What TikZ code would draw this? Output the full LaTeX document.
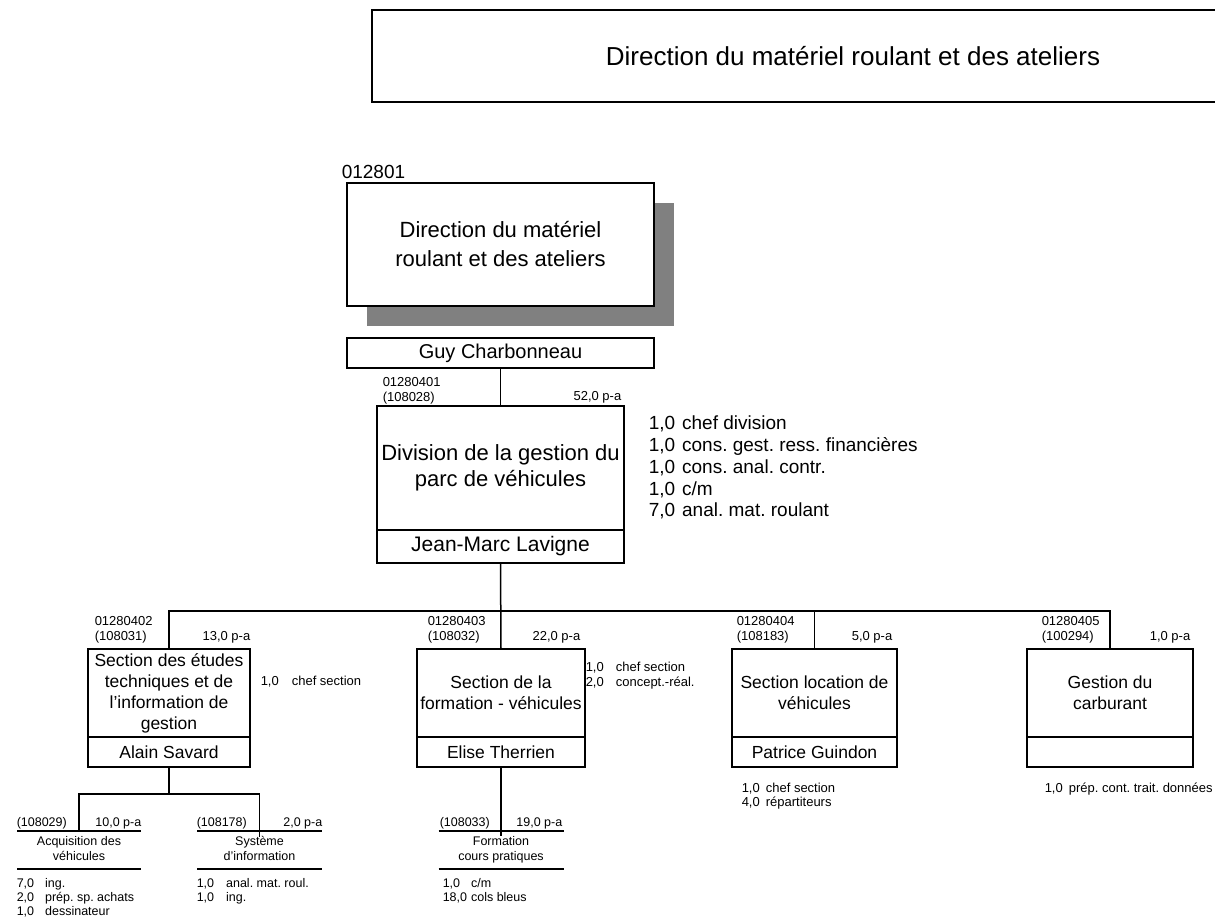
\documentclass[tikz,border=0pt]{standalone}
\usepackage{fontspec}
\setmainfont{Liberation Sans}
\usetikzlibrary{positioning,shadows}

\tikzset{
  boite/.style={draw, rectangle, inner sep=0pt, outer sep=0pt, align=center, fill=white},
  section/.style={boite, minimum height=88pt, font=\fontsize{17.5}{21}\selectfont},
  nom/.style={boite, minimum height=30pt, font=\fontsize{17.5}{21}\selectfont},
  code/.style={anchor=west, align=left, inner sep=0pt, font=\fontsize{13}{15}\selectfont},
  pa/.style={anchor=east, inner sep=0pt, font=\fontsize{13}{15}\selectfont},
  effectif/.style={anchor=west, inner sep=0pt, font=\fontsize{13}{15}\selectfont},
  unite/.style={minimum height=38pt, inner sep=0pt, outer sep=0pt, align=center, font=\fontsize{12.5}{15}\selectfont,
    execute at begin node={\rule{0pt}{12pt}}, execute at end node={\rule[-4pt]{0pt}{4pt}}},
  petit/.style={inner sep=0pt, font=\fontsize{12.5}{14}\selectfont},
}

\begin{document}
\frenchspacing
\begin{tikzpicture}[x=1pt, y=-1pt, line width=1.5pt]
  \useasboundingbox (0,0) rectangle (1215,923);

  % direction
  \node[boite, minimum width=962pt, minimum height=92pt, font=\fontsize{26}{30}\selectfont] (titre) at (853,56) {Direction du matériel roulant et des ateliers};

  \node[anchor=west, inner sep=0pt, font=\fontsize{19}{22}\selectfont] (c0) at (341,172) {012801};
  \node[boite, minimum width=307pt, minimum height=123pt, font=\fontsize{22}{29}\selectfont,
        general shadow={fill=gray, shadow xshift=20pt, shadow yshift=-20pt}] (dir) at (500.5,244.5) {Direction du matériel\\roulant et des ateliers};
  \node[boite, minimum width=307pt, minimum height=30pt, font=\fontsize{20}{24}\selectfont] (guy) at (500.5,353) {Guy Charbonneau};

  % division
  \node[boite, minimum width=247pt, minimum height=124pt, font=\fontsize{22}{26}\selectfont] (div) at (500.5,468) {Division de la gestion du\\parc de véhicules};
  \node[boite, minimum width=247pt, minimum height=33pt, font=\fontsize{21}{25}\selectfont, below=0pt of div] (divnom) {Jean-Marc Lavigne};
  \node[code] (c1) at (382,390.5) {01280401\\(108028)};
  \node[pa] (p1) at (622,397) {52,0 p-a};
  \node[anchor=west, inner sep=0pt, font=\fontsize{19}{21.7}\selectfont] (l1) at (648,469) {%
    \begin{tabular}{@{}l@{\hspace{7pt}}l@{}}
      1,0 & chef division\\
      1,0 & cons. gest. ress. financières\\
      1,0 & cons. anal. contr.\\
      1,0 & c/m\\
      7,0 & anal. mat. roulant
    \end{tabular}};

  % sections
  \node[section, minimum width=162pt] (s1) at (169,693) {Section des études\\techniques et de\\l’information de\\gestion};
  \node[nom, minimum width=162pt, below=0pt of s1] (s1nom) {Alain Savard};
  \node[section, minimum width=168pt] (s2) at (501,693) {Section de la\\formation - véhicules};
  \node[nom, minimum width=168pt, below=0pt of s2] (s2nom) {Elise Therrien};
  \node[section, minimum width=165pt] (s3) at (814.5,693) {Section location de\\véhicules};
  \node[nom, minimum width=165pt, below=0pt of s3] (s3nom) {Patrice Guindon};
  \node[section, minimum width=166pt] (s4) at (1110,693) {Gestion du\\carburant};
  \node[nom, minimum width=166pt, below=0pt of s4] (s4nom) {};

  \node[code] (c2) at (94,629.5) {01280402\\(108031)};
  \node[pa] (p2) at (251,637) {13,0 p-a};
  \node[code] (c3) at (427,629.5) {01280403\\(108032)};
  \node[pa] (p3) at (581,637) {22,0 p-a};
  \node[code] (c4) at (736,629.5) {01280404\\(108183)};
  \node[pa] (p4) at (893,637) {5,0 p-a};
  \node[code] (c5) at (1041,629.5) {01280405\\(100294)};
  \node[pa] (p5) at (1191,637) {1,0 p-a};

  \node[effectif] (l2) at (260,682) {1,0\hspace{13pt}chef section};
  \node[effectif] (l3) at (585,675.5) {%
    \begin{tabular}{@{}l@{\hspace{12pt}}l@{}}
      1,0 & chef section\\
      2,0 & concept.-réal.
    \end{tabular}};
  \node[effectif, font=\fontsize{13}{14}\selectfont] (l4) at (741,797) {%
    \begin{tabular}{@{}l@{\hspace{6pt}}l@{}}
      1,0 & chef section\\
      4,0 & répartiteurs
    \end{tabular}};
  \node[effectif] (l5) at (1044,789) {1,0\hspace{6pt}prép. cont. trait. données};

  % unites
  \node[unite, minimum width=124pt] (acq) at (79,850) {Acquisition des\\véhicules};
  \node[unite, minimum width=125pt] (sys) at (259.5,850) {Système\\d’information};
  \node[unite, minimum width=125pt] (form) at (501,850) {Formation\\cours pratiques};
  \foreach \u in {acq,sys,form}
    \draw[line width=1.3pt] (\u.north west) -- (\u.north east) (\u.south west) -- (\u.south east);

  \node[petit, anchor=west] (c6) at (16,823) {(108029)};
  \node[petit, anchor=east] (p6) at (142,823) {10,0 p-a};
  \node[petit, anchor=west] (c7) at (196,823) {(108178)};
  \node[petit, anchor=east] (p7) at (323,823) {2,0 p-a};
  \node[petit, anchor=west] (c8) at (439,823) {(108033)};
  \node[petit, anchor=east] (p8) at (563,823) {19,0 p-a};

  \node[petit, anchor=west] (l6) at (16,899) {%
    \begin{tabular}{@{}l@{\hspace{11pt}}l@{}}
      7,0 & ing.\\
      2,0 & prép. sp. achats\\
      1,0 & dessinateur
    \end{tabular}};
  \node[petit, anchor=west] (l7) at (196,892) {%
    \begin{tabular}{@{}l@{\hspace{12pt}}l@{}}
      1,0 & anal. mat. roul.\\
      1,0 & ing.
    \end{tabular}};
  \node[petit, anchor=west] (l8) at (442,892) {%
    \begin{tabular}{@{}l@{\hspace{4pt}}l@{}}
      1,0 & c/m\\
      18,0 & cols bleus
    \end{tabular}};

  % liens
  \coordinate (bus) at (500.5,611);
  \coordinate (sb) at (169,794);
  \draw (guy.south) -- (div.north);
  \draw (divnom.south) -- (s2.north);
  \draw (s1.north) -- (s1.north |- bus) -- (s4.north |- bus) -- (s4.north);
  \draw (s3.north) -- (s3.north |- bus);
  \draw (s1nom.south) -- (sb);
  \draw (acq.north) |- (sb) -| ([yshift=-6pt]sys.north);
  \draw (s2nom.south) -- ([yshift=-5pt]form.north);

\end{tikzpicture}
\end{document}
